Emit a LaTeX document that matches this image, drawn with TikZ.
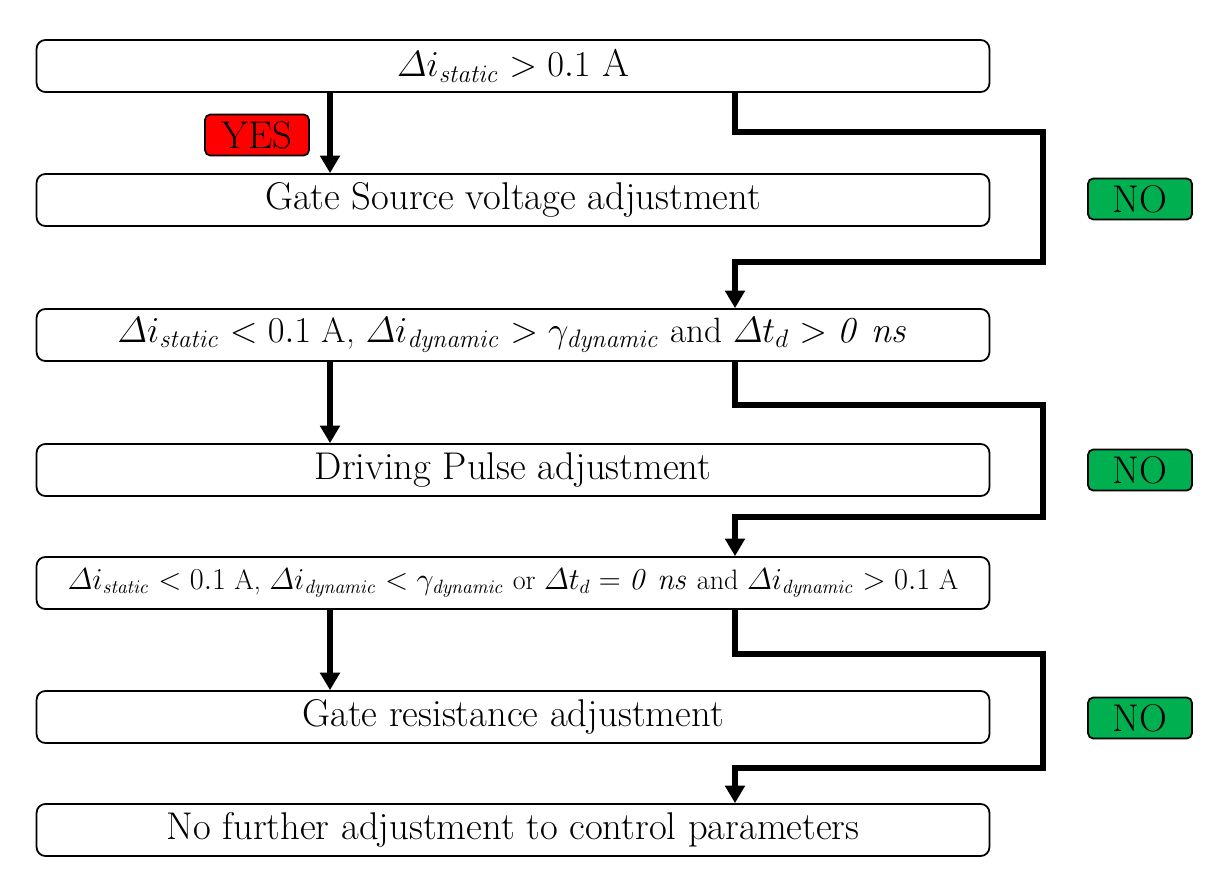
\documentclass[tikz,border=0pt]{standalone}
\usepackage{amsmath}
\usetikzlibrary{arrows.meta}
\begin{document}
\begin{tikzpicture}[x=0.02cm,y=-0.02cm,
  box/.style={draw,rounded corners=5pt,line width=1pt,minimum width=19.06cm,minimum height=1.04cm,inner sep=0pt,font=\fontsize{22}{26}\selectfont},
  flow/.style={line width=3.6pt,-{Triangle[length=10pt,width=11pt]}},
  tag/.style={draw,rounded corners=3pt,line width=1pt,minimum width=2.08cm,minimum height=0.82cm,inner sep=0pt,font=\fontsize{22}{26}\selectfont}]
\useasboundingbox (0,0) rectangle (1224,888);
\newcommand{\di}{\varDelta i}
\node[box] (b1) at (513,66) {$\di_{\mathit{static}} > 0.1$ A};
\node[box] (b2) at (513,200) {Gate Source voltage adjustment};
\node[box] (b3) at (513,335) {\fontsize{20}{24}\selectfont$\di_{\mathit{static}} < 0.1$ A, $\di_{\mathit{dynamic}} > \gamma_{\mathit{dynamic}}$ and $\varDelta t_d > \mathit{0\ ns}$};
\node[box] (b4) at (513,470) {Driving Pulse adjustment};
\node[box] (b5) at (513,583) {\fontsize{16}{20}\selectfont$\di_{\mathit{static}} < 0.1$ A, $\di_{\mathit{dynamic}} < \gamma_{\mathit{dynamic}}$ or $\varDelta t_d = \mathit{0\ ns}$ and $\di_{\mathit{dynamic}} > 0.1$ A};
\node[box] (b6) at (513,717) {Gate resistance adjustment};
\node[box] (b7) at (513,830) {No further adjustment to control parameters};

\draw[flow] (b1.south -| 330,0) -- (b2.north -| 330,0);
\draw[flow] (b3.south -| 330,0) -- (b4.north -| 330,0);
\draw[flow] (b5.south -| 330,0) -- (b6.north -| 330,0);

\draw[flow] (b1.south -| 735,0) -- (735,132) -- (1043,132) -- (1043,262) -- (735,262) -- (b3.north -| 735,0);
\draw[flow] (b3.south -| 735,0) -- (735,405) -- (1043,405) -- (1043,517) -- (735,517) -- (b5.north -| 735,0);
\draw[flow] (b5.south -| 735,0) -- (735,654) -- (1043,654) -- (1043,768) -- (735,768) -- (b7.north -| 735,0);

\node[tag,fill=red] (yes) at (257,135) {YES};
\node[tag,fill={rgb,255:red,0;green,176;blue,80}] (no1) at (1140,199) {NO};
\node[tag,fill={rgb,255:red,0;green,176;blue,80}] (no2) at (1140,470) {NO};
\node[tag,fill={rgb,255:red,0;green,176;blue,80}] (no3) at (1140,718) {NO};
\end{tikzpicture}
\end{document}
